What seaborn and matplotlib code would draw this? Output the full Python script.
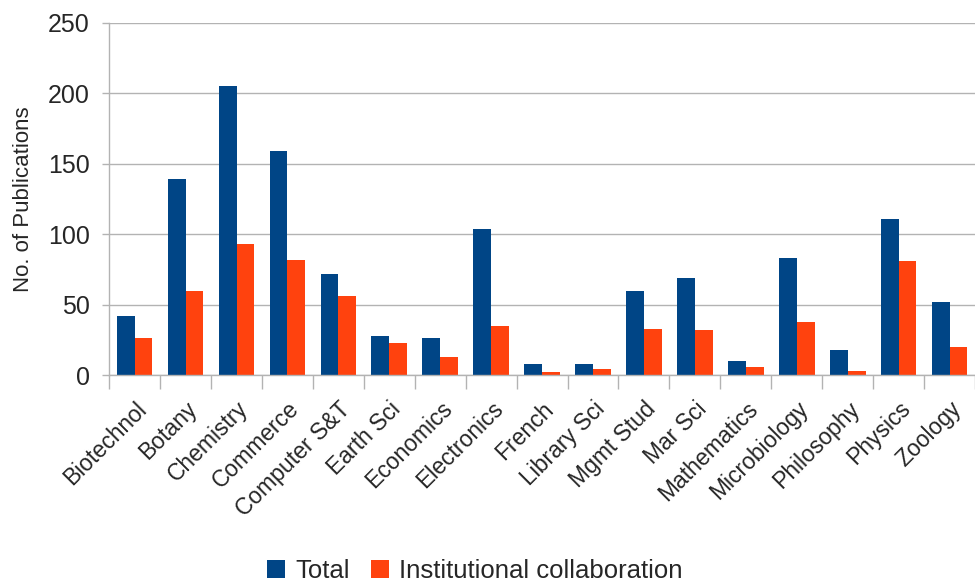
import numpy as np
import pandas as pd
import matplotlib
matplotlib.use("Agg")
import matplotlib.pyplot as plt
import seaborn as sns
from matplotlib.ticker import FixedLocator

subjects = ["Biotechnol", "Botany", "Chemistry", "Commerce", "Computer S&T",
            "Earth Sci", "Economics", "Electronics", "French", "Library Sci",
            "Mgmt Stud", "Mar Sci", "Mathematics", "Microbiology", "Philosophy",
            "Physics", "Zoology"]
total = [42, 139, 205, 159, 72, 28, 26, 104, 8, 8, 60, 69, 10, 83, 18, 111, 52]
collab = [26, 60, 93, 82, 56, 23, 13, 35, 2, 4, 33, 32, 6, 38, 3, 81, 20]
series = ["Total", "Institutional collaboration"]
colors = ["#004586", "#ff420e"]

df = pd.DataFrame({
    "subject": subjects * 2,
    "count": total + collab,
    "series": [series[0]] * len(subjects) + [series[1]] * len(subjects),
})

sns.set_theme(style="white")
plt.rcParams["font.family"] = ["Liberation Sans", "DejaVu Sans"]

GRID = "#b3b3b3"

fig = plt.figure(figsize=(9.75, 5.87), dpi=100)
ax = fig.add_axes([0.112, 0.361, 0.888, 0.600])

sns.barplot(data=df, x="subject", y="count", hue="series", palette=colors,
            width=0.7, gap=0, saturation=1, linewidth=0, ax=ax, legend=True)

ax.set_ylim(0, 250)
ax.set_xlim(-0.5, len(subjects) - 0.5)
ax.set_yticks(np.arange(0, 251, 50))
ax.yaxis.grid(True, color=GRID, lw=1)
ax.set_axisbelow(True)
for s in ["top", "right"]:
    ax.spines[s].set_visible(False)
for s in ["left", "bottom"]:
    ax.spines[s].set_color(GRID)
    ax.spines[s].set_linewidth(1)

ax.set_xlabel("")
ax.set_ylabel("No. of Publications", fontsize=16, labelpad=10)
ax.tick_params(axis="y", labelsize=18, length=5, color=GRID, width=1,
               left=True, pad=9)
ax.tick_params(axis="x", which="major", length=0, labelsize=16.5, pad=16)
ax.xaxis.set_minor_locator(FixedLocator(np.arange(-0.5, len(subjects), 1.0)))
ax.tick_params(axis="x", which="minor", length=10, color=GRID, width=1, bottom=True)
plt.setp(ax.get_xticklabels(), rotation=45, ha="right", rotation_mode="anchor")

handles, labels = ax.get_legend_handles_labels()
ax.get_legend().remove()
fig.legend(handles, labels, loc="lower center", bbox_to_anchor=(0.487, -0.032),
           ncol=2, frameon=False, fontsize=18.5, handlelength=0.7,
           handleheight=0.7, handletextpad=0.4, columnspacing=0.8)

fig.savefig("out.png", dpi=100)
